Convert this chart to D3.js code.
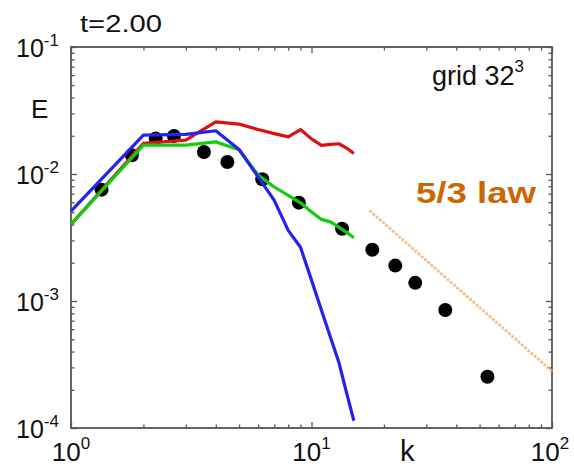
<!DOCTYPE html>
<html>
<head>
<meta charset="utf-8">
<script src="https://cdn.jsdelivr.net/npm/d3@7"></script>
<style>
  body { margin: 0; background: #fff; }
  text { font-family: "Liberation Sans", Arial, sans-serif; fill: #111; }
</style>
</head>
<body>
<div id="chart"></div>
<script>
// wavenumbers of the simulated spectra
var kSim = [1, 2, 3, 4, 5, 6, 7, 8, 9, 10, 11, 12, 13, 14, 15];
var redE = [0.00401, 0.01746, 0.01845, 0.02574, 0.0247, 0.0224, 0.0208, 0.0196, 0.0224, 0.0189, 0.0168, 0.0171, 0.0173, 0.0160, 0.01449];
var blueE = [0.0051, 0.0202, 0.0205, 0.0219, 0.0156, 0.0095, 0.0062, 0.0036, 0.00265, 0.00146, 0.000845, 0.000517, 0.000328, 0.000188, 0.000114];
var greenE = [0.00401, 0.01686, 0.01686, 0.0179, 0.0155, 0.0098, 0.0079, 0.00679, 0.00593, 0.00503, 0.00439, 0.0042, 0.0038, 0.00347, 0.00315];

// reference points (black dots)
var dotK = [1.34, 1.79, 2.25, 2.68, 3.57, 4.47, 6.24, 8.86, 13.4, 17.9, 22.3, 27.0, 36.0, 53.9];
var dotE = [0.00753, 0.01406, 0.019, 0.0199, 0.0149, 0.01244, 0.00909, 0.00595, 0.00371, 0.00253, 0.0019, 0.00139, 0.00085, 0.000253];

// 5/3 law end points
var lawK = [17.6, 100];
var lawE = [0.00508, 0.00028];

var xTicks = [1, 10, 100];
var xExp = ['0', '1', '2'];
var yTicks = [1e-1, 1e-2, 1e-3, 1e-4];
var yExp = ['-1', '-2', '-3', '-4'];

var sWidth = 574;
var sHeight = 467;

var marg = { top: 47, bottom: 39, left: 71, right: 22 };
var width = sWidth - marg.left - marg.right;
var height = sHeight - marg.top - marg.bottom;

var svg = d3.select('#chart')
    .append('svg')
    .attr('width', sWidth)
    .attr('height', sHeight);

var x = d3.scaleLog().domain([1, 100]).range([marg.left, marg.left + width]);
var y = d3.scaleLog().domain([1e-4, 1e-1]).range([marg.top + height, marg.top]);

var minorX = x.ticks().filter(d => xTicks.indexOf(d) < 0);
var minorY = y.ticks().filter(d => yTicks.every(t => Math.abs(t - d) / t > 1e-6));

var axisCol = '#555';

function drawAxis(axis, tx, ty) {
    var g = svg.append('g')
        .attr('transform', `translate(${tx}, ${ty})`)
        .call(axis);
    g.select('.domain').remove();
    g.selectAll('line').attr('stroke', axisCol).attr('stroke-width', 1.3);
    g.selectAll('text').remove();
    return g;
}

var bottomY = marg.top + height;
var rightX = marg.left + width;

// major and minor ticks, all pointing inward
drawAxis(d3.axisBottom(x).tickValues(xTicks).tickSize(-6), 0, bottomY);
drawAxis(d3.axisBottom(x).tickValues(minorX).tickSize(-3.5), 0, bottomY);
drawAxis(d3.axisTop(x).tickValues(xTicks).tickSize(-6), 0, marg.top);
drawAxis(d3.axisTop(x).tickValues(minorX).tickSize(-3.5), 0, marg.top);
drawAxis(d3.axisLeft(y).tickValues(yTicks).tickSize(-6), marg.left, 0);
drawAxis(d3.axisLeft(y).tickValues(minorY).tickSize(-3.5), marg.left, 0);
drawAxis(d3.axisRight(y).tickValues(yTicks).tickSize(-6), rightX, 0);
drawAxis(d3.axisRight(y).tickValues(minorY).tickSize(-3.5), rightX, 0);

svg.append('rect')
    .attr('x', marg.left)
    .attr('y', marg.top)
    .attr('width', width)
    .attr('height', height)
    .attr('fill', 'none')
    .attr('stroke', axisCol)
    .attr('stroke-width', 1.8);

// tick labels with superscript exponents
yTicks.forEach(function(t, i) {
    var txt = svg.append('text')
        .attr('x', 16)
        .attr('y', y(t) + 10)
        .style('font-size', '25px');
    txt.append('tspan').text('10');
    txt.append('tspan').attr('dy', -11).style('font-size', '17px').text(yExp[i]);
});

xTicks.forEach(function(t, i) {
    var txt = svg.append('text')
        .attr('x', Math.min(x(t), 550))
        .attr('y', 461)
        .attr('text-anchor', 'middle')
        .style('font-size', '26px');
    txt.append('tspan').text('10');
    txt.append('tspan').attr('dy', -12).style('font-size', '17px').text(xExp[i]);
});

// dots
svg.append('g')
    .selectAll('circle')
    .data(dotK)
    .enter()
    .append('circle')
    .attr('cx', d => x(d))
    .attr('cy', (d, i) => y(dotE[i]))
    .attr('r', 7)
    .attr('fill', '#000');

// 5/3 law dotted line
svg.append('path')
    .datum(lawK)
    .attr('d', d3.line().x(d => x(d)).y((d, i) => y(lawE[i])))
    .attr('fill', 'none')
    .attr('stroke', '#f4ab6c')
    .attr('stroke-width', 3.2)
    .attr('stroke-linecap', 'round')
    .attr('stroke-dasharray', '0.1,4.2')
    .attr('opacity', 0.75);

var line = d3.line().x(d => x(d[0])).y(d => y(d[1]));

var series = [
    { vals: redE, col: '#dd1111' },
    { vals: greenE, col: '#11cc11' },
    { vals: blueE, col: '#2323ee' }
];

series.forEach(function(s) {
    svg.append('path')
        .datum(kSim.map((k, i) => [k, s.vals[i]]))
        .attr('d', line)
        .attr('fill', 'none')
        .attr('stroke', s.col)
        .attr('stroke-width', 3.2)
        .attr('stroke-linejoin', 'round');
});

// annotations
svg.append('text')
    .attr('x', 80).attr('y', 32)
    .style('font-size', '24px')
    .attr('textLength', 82)
    .attr('lengthAdjust', 'spacingAndGlyphs')
    .text('t=2.00');

svg.append('text')
    .attr('x', 31).attr('y', 118)
    .style('font-size', '26px')
    .text('E');

svg.append('text')
    .attr('x', 400).attr('y', 461)
    .style('font-size', '29px')
    .text('k');

var grid = svg.append('text')
    .attr('x', 432).attr('y', 85)
    .style('font-size', '27px');
grid.append('tspan').text('grid 32');
grid.append('tspan').attr('dy', -13).style('font-size', '17px').text('3');

svg.append('text')
    .attr('x', 416).attr('y', 203)
    .style('font-size', '29px')
    .style('font-weight', 'bold')
    .style('fill', '#cc6600')
    .attr('textLength', 120)
    .attr('lengthAdjust', 'spacingAndGlyphs')
    .text('5/3 law');
</script>
</body>
</html>
